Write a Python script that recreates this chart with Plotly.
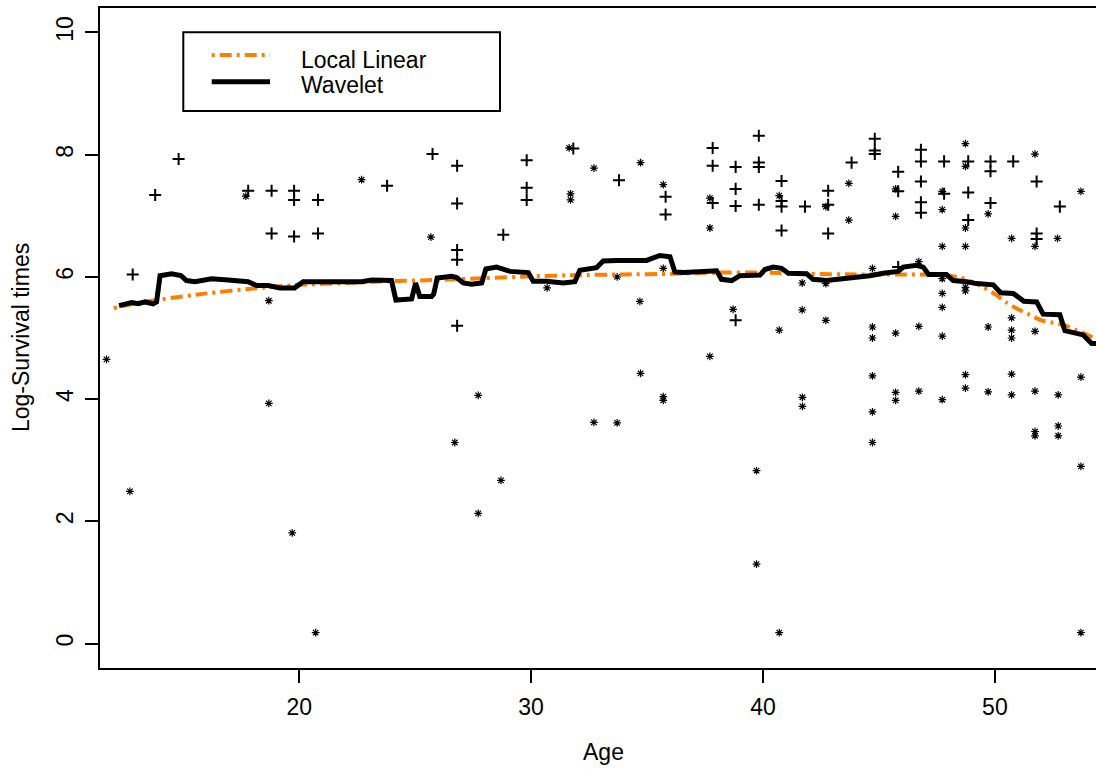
import plotly.graph_objects as go

# ---------------- data ----------------
plus_age = [12.82, 13.79, 14.80, 17.80, 18.81, 18.81, 19.78, 19.78, 19.78, 20.81, 20.81,
            23.79, 25.75, 26.81, 26.81, 26.81, 26.81, 26.81, 28.80, 29.81, 29.81, 29.81,
            31.82, 33.79, 35.80, 35.80, 37.83, 37.83, 37.83, 38.82, 38.82, 38.82, 38.82,
            39.82, 39.82, 39.82, 39.82, 40.80, 40.80, 40.80, 40.80, 41.81, 42.81, 42.81,
            42.81, 43.82, 44.82, 44.82, 44.82, 45.83, 45.83, 45.83, 46.81, 46.81, 46.81,
            46.81, 46.81, 47.81, 47.81, 48.85, 48.85, 48.85, 49.81, 49.81, 49.81, 50.79,
            51.80, 51.80, 51.80, 52.80]
plus_logt = [6.04, 7.34, 7.93, 7.41, 7.41, 6.71, 7.41, 7.26, 6.66, 7.26, 6.71,
             7.49, 8.01, 7.82, 7.20, 6.44, 6.28, 5.20, 6.69, 7.91, 7.46, 7.26,
             8.10, 7.58, 7.31, 7.02, 8.11, 7.82, 7.21, 7.80, 7.44, 7.16, 5.29,
             8.31, 7.87, 7.80, 7.18, 7.57, 7.24, 7.15, 6.76, 7.15, 7.41, 7.18,
             6.71, 7.87, 8.26, 8.07, 8.01, 7.72, 7.40, 6.16, 8.08, 7.89, 7.56,
             7.22, 7.05, 7.89, 7.36, 7.89, 7.38, 6.93, 7.89, 7.73, 7.21, 7.89,
             7.56, 6.71, 6.62, 7.15]

star_age = [11.69, 12.70, 17.70, 18.69, 18.69, 19.70, 20.71, 22.69, 25.68, 26.71, 27.72,
            27.72, 28.70, 30.69, 31.64, 31.70, 31.70, 32.71, 32.71, 33.71, 33.71, 34.72,
            34.69, 34.72, 35.70, 35.70, 35.70, 35.70, 37.71, 37.71, 37.71, 38.71, 39.72,
            39.72, 40.70, 40.70, 40.70, 41.69, 41.69, 41.70, 41.70, 42.71, 42.71, 42.71,
            43.70, 43.70, 44.72, 44.72, 44.72, 44.72, 44.72, 44.72, 45.72, 45.72, 45.72,
            45.72, 45.72, 46.72, 46.72, 46.72, 47.73, 47.73, 47.73, 47.73, 47.73, 47.73,
            47.73, 47.73, 48.73, 48.73, 48.73, 48.73, 48.73, 48.73, 48.73, 48.73, 49.71,
            49.71, 49.71, 50.72, 50.72, 50.72, 50.72, 50.72, 50.72, 51.73, 51.73, 51.73,
            51.73, 51.73, 51.73, 52.70, 52.73, 52.73, 52.73, 53.71, 53.71, 53.71, 53.71]
star_logt = [4.65, 2.49, 7.32, 5.61, 3.93, 1.81, 0.18, 7.59, 6.65, 3.29, 4.06,
             2.13, 2.67, 5.82, 8.11, 7.36, 7.26, 7.78, 3.62, 6.00, 3.61, 7.87,
             5.60, 4.42, 7.51, 6.14, 4.04, 3.98, 7.29, 6.80, 4.70, 5.47, 2.83,
             1.30, 7.33, 5.13, 0.18, 5.90, 5.46, 4.03, 3.88, 7.15, 5.89, 5.29,
             7.53, 6.93, 6.14, 5.18, 5.00, 4.38, 3.79, 3.29, 7.44, 6.99, 5.08,
             4.11, 3.98, 6.25, 5.19, 4.13, 7.40, 7.10, 6.50, 5.97, 5.73, 5.50,
             5.03, 3.99, 8.18, 7.81, 6.80, 6.50, 5.83, 5.77, 4.40, 4.18, 7.03,
             5.18, 4.12, 6.63, 5.33, 5.13, 5.00, 4.41, 4.07, 8.01, 6.50, 5.11,
             4.13, 3.47, 3.40, 6.63, 4.07, 3.56, 3.40, 7.40, 4.36, 2.90, 0.18]

ll_age = [12.0, 13.0, 14.0, 16.0, 18.0, 20.0, 22.0, 24.0, 26.0, 28.0, 30.0, 32.0, 34.0,
          36.0, 38.0, 40.0, 42.0, 44.0, 46.0, 47.0, 48.0, 48.5, 49.0, 49.5, 50.0, 50.5,
          51.0, 51.5, 52.0, 52.5, 53.0, 53.5, 54.0, 54.36]
ll_fit = [5.49, 5.57, 5.63, 5.73, 5.81, 5.87, 5.90, 5.93, 5.95, 5.98, 6.01, 6.03, 6.04,
          6.05, 6.07, 6.07, 6.05, 6.04, 6.04, 6.04, 6.02, 5.99, 5.92, 5.83, 5.72, 5.58,
          5.47, 5.38, 5.29, 5.25, 5.21, 5.13, 5.05, 4.98]

wav_age = [12.23, 12.77, 13.06, 13.35, 13.70, 13.85, 14.00, 14.50, 14.90, 15.14, 15.50,
           16.22, 16.94, 17.80, 18.16, 18.66, 19.17, 19.80, 20.17, 20.68, 21.97, 22.69,
           23.12, 23.70, 23.98, 24.17, 24.70, 24.85, 25.02, 25.20, 25.71, 25.80, 25.95,
           26.57, 26.79, 27.07, 27.43, 27.87, 28.05, 28.51, 29.09, 29.52, 29.88, 30.09,
           30.67, 31.38, 31.89, 32.10, 32.82, 33.11, 33.69, 34.98, 35.27, 35.55, 35.99,
           36.20, 36.56, 37.57, 38.00, 38.21, 38.65, 39.00, 39.87, 40.08, 40.44, 40.80,
           41.09, 41.88, 42.16, 42.74, 43.60, 44.61, 45.18, 45.83, 46.05, 46.62, 46.91,
           47.14, 47.91, 48.20, 48.78, 49.21, 49.93, 50.25, 50.79, 51.25, 51.80, 52.08,
           52.80, 53.02, 53.81, 54.17, 54.36]
wav_fit = [5.53, 5.58, 5.56, 5.59, 5.56, 5.59, 6.02, 6.05, 6.02, 5.94, 5.92,
           5.97, 5.95, 5.92, 5.86, 5.86, 5.82, 5.82, 5.92, 5.92, 5.92, 5.92,
           5.95, 5.95, 5.94, 5.62, 5.62, 5.64, 5.90, 5.68, 5.68, 5.72, 5.98,
           6.01, 5.99, 5.90, 5.88, 5.90, 6.13, 6.16, 6.09, 6.09, 6.07, 5.93,
           5.93, 5.90, 5.92, 6.11, 6.15, 6.26, 6.27, 6.27, 6.32, 6.35, 6.33,
           6.08, 6.07, 6.08, 6.10, 5.96, 5.94, 6.02, 6.03, 6.12, 6.16, 6.14,
           6.06, 6.05, 5.96, 5.94, 5.97, 6.02, 6.06, 6.09, 6.16, 6.19, 6.16,
           6.04, 6.04, 5.94, 5.92, 5.89, 5.87, 5.74, 5.73, 5.60, 5.59, 5.39,
           5.38, 5.12, 5.05, 4.91, 4.91]

x_ticks = [20, 30, 40, 50]
y_ticks = [0, 2, 4, 6, 8, 10]
legend_labels = ["Local Linear", "Wavelet"]

# ---------------- figure ----------------
W, H = 1096, 769
ML, MR, MT, MB = 100, 0, 8, 101
FONT = "Liberation Sans, Arial, Helvetica, sans-serif"
ORANGE = "#FF7F00"

fig = go.Figure()

fig.add_trace(go.Scatter(x=plus_age, y=plus_logt, mode="markers",
                         marker=dict(symbol="cross-thin-open", size=8.6, color="black",
                                     line=dict(color="black", width=2)),
                         showlegend=False, hoverinfo="skip"))
fig.add_trace(go.Scatter(x=star_age, y=star_logt, mode="markers",
                         marker=dict(symbol="asterisk-open", size=6.5, color="black",
                                     line=dict(color="black", width=1.2)),
                         showlegend=False, hoverinfo="skip"))
fig.add_trace(go.Scatter(x=ll_age, y=ll_fit, mode="lines",
                         line=dict(color=ORANGE, width=4, dash="3px,5px,12px,5px",
                                   shape="spline", smoothing=0.5),
                         showlegend=False, hoverinfo="skip"))
fig.add_trace(go.Scatter(x=wav_age, y=wav_fit, mode="lines",
                         line=dict(color="black", width=5),
                         showlegend=False, hoverinfo="skip"))

pw = W - ML - MR
ph = H - MT - MB


def px2paper(px, py):
    return (px - ML) / pw, (H - MB - py) / ph


# legend box
x0, y0 = px2paper(183.3, 111)
x1, y1 = px2paper(500, 32.3)
fig.add_shape(type="rect", xref="paper", yref="paper", x0=x0, y0=y0, x1=x1, y1=y1,
              line=dict(color="black", width=2), fillcolor="white", layer="above")
lx0, ly_o = px2paper(211.7, 55)
lx1, ly_b = px2paper(270, 81.7)
fig.add_shape(type="line", xref="paper", yref="paper", x0=lx0, x1=lx1, y0=ly_o, y1=ly_o,
              line=dict(color=ORANGE, width=4, dash="3px,5px,12px,5px"), layer="above")
fig.add_shape(type="line", xref="paper", yref="paper", x0=lx0, x1=lx1, y0=ly_b, y1=ly_b,
              line=dict(color="black", width=5), layer="above")
tx, ty1 = px2paper(299, 60)
_, ty2 = px2paper(299, 85)
for lab, ty in zip(legend_labels, [ty1, ty2]):
    fig.add_annotation(xref="paper", yref="paper", x=tx, y=ty, text=lab, showarrow=False,
                       xanchor="left", yanchor="middle",
                       font=dict(family=FONT, size=23, color="black"))

# axis titles
ax_x, ax_y = px2paper(603, 752)
fig.add_annotation(xref="paper", yref="paper", x=ax_x, y=ax_y, text="Age", showarrow=False,
                   xanchor="center", yanchor="middle",
                   font=dict(family=FONT, size=23, color="black"))
ay_x, ay_y = px2paper(21, 338)
fig.add_annotation(xref="paper", yref="paper", x=ay_x, y=ay_y, text="Log-Survival times",
                   showarrow=False, textangle=-90, xanchor="center", yanchor="middle",
                   font=dict(family=FONT, size=23, color="black"))

fig.update_layout(
    width=W, height=H,
    margin=dict(l=ML, r=MR, t=MT, b=MB, pad=0),
    paper_bgcolor="white", plot_bgcolor="white",
    font=dict(family=FONT, size=23, color="black"),
    showlegend=False,
    xaxis=dict(range=[11.41, 54.36], tickvals=x_ticks, ticktext=[str(v) for v in x_ticks],
               ticks="outside", ticklen=13, tickwidth=2, tickcolor="black",
               showline=True, linewidth=2, linecolor="black", mirror=True,
               showgrid=False, zeroline=False, ticklabelstandoff=4),
    yaxis=dict(range=[-0.4, 10.4], tickvals=y_ticks, ticktext=[str(v) for v in y_ticks],
               ticks="outside", ticklen=13, tickwidth=2, tickcolor="black", tickangle=-90,
               showline=True, linewidth=2, linecolor="black", mirror=False,
               showgrid=False, zeroline=False, ticklabelstandoff=3),
)

fig.write_html("out.html", config={"displayModeBar": False, "staticPlot": True},
               post_script="document.body.style.margin='0';document.body.style.overflow='hidden';")
